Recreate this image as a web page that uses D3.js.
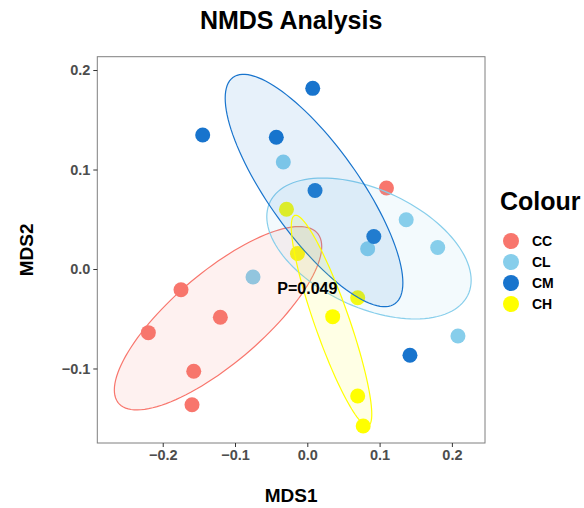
<!DOCTYPE html>
<html>
<head>
<meta charset="utf-8">
<script src="https://cdn.jsdelivr.net/npm/d3@7"></script>
<style>
  html, body { margin: 0; padding: 0; background: #fff; }
  svg { display: block; font-family: "Liberation Sans", Arial, Helvetica, sans-serif; }
</style>
</head>
<body>
<svg id="chart" width="584" height="508"></svg>
<script>
// ---- data ----
const groups = ["CC", "CL", "CM", "CH"];
const groupColors = ["#F8766D", "#87CEEB", "#1874CD", "#FFFF00"];

const ccX = [0.1095, -0.1747, -0.1203, -0.2199, -0.1571, -0.1595];
const ccY = [0.0814, -0.0208, -0.0485, -0.0640, -0.1028, -0.1364];
const clX = [-0.0332, 0.1368, 0.1804, 0.0835, -0.0751, 0.2084];
const clY = [0.1075, 0.0495, 0.0216, 0.0204, -0.0080, -0.0673];
const cmX = [0.0075, -0.1447, -0.0429, 0.0107, 0.0920, 0.1420];
const cmY = [0.1816, 0.1347, 0.1324, 0.0789, 0.0327, -0.0867];
const chX = [-0.0288, -0.0136, 0.0697, 0.0351, 0.0697, 0.0773];
const chY = [0.0600, 0.0156, -0.0289, -0.0479, -0.1276, -0.1578];

// ellipse shapes (data units): centre and covariance-like shape matrix
const ellipseCX  = [-0.1235, 0.0853, 0.0093, 0.0335];
const ellipseCY  = [-0.0495, 0.0206, 0.0789, -0.0518];
const ellipseSxx = [0.020573, 0.019982, 0.015102, 0.003099];
const ellipseSyy = [0.008494, 0.005020, 0.013638, 0.011200];
const ellipseSxy = [0.010335, -0.004518, -0.011399, -0.005241];

const xTicks = [-0.2, -0.1, 0.0, 0.1, 0.2];
const yTicks = [-0.1, 0.0, 0.1, 0.2];
const xDomain = [-0.2905, 0.2458];
const yDomain = [-0.1749, 0.2134];
const pLabel = "P=0.049";
const pPos = [0.0, -0.02];

// ---- layout ----
const svg = d3.select("#chart");
const pLeft = 97.3, pRight = 485, pTop = 56.7, pBottom = 443;
const x = d3.scaleLinear().domain(xDomain).range([pLeft, pRight]);
const y = d3.scaleLinear().domain(yDomain).range([pBottom, pTop]);

const seriesX = [ccX, clX, cmX, chX];
const seriesY = [ccY, clY, cmY, chY];
const points = [];
groups.forEach((g, i) => seriesX[i].forEach((v, j) => points.push({g: i, x: v, y: seriesY[i][j]})));

svg.append("rect").attr("x", pLeft).attr("y", pTop)
  .attr("width", pRight - pLeft).attr("height", pBottom - pTop).attr("fill", "#fff");

const plot = svg.append("g");
plot.selectAll("circle.pt").data(points).join("circle")
  .attr("class", "pt")
  .attr("cx", d => x(d.x)).attr("cy", d => y(d.y)).attr("r", 7.5)
  .attr("fill", d => groupColors[d.g]);

const line = d3.line().x(d => x(d[0])).y(d => y(d[1])).curve(d3.curveLinearClosed);
groups.forEach((g, i) => {
  const sxx = ellipseSxx[i], syy = ellipseSyy[i], sxy = ellipseSxy[i];
  const l11 = Math.sqrt(sxx), l21 = sxy / l11, l22 = Math.sqrt(syy - l21 * l21);
  const pts = d3.range(120).map(k => {
    const t = 2 * Math.PI * k / 120;
    return [ellipseCX[i] + l11 * Math.cos(t), ellipseCY[i] + l21 * Math.cos(t) + l22 * Math.sin(t)];
  });
  plot.append("path").attr("d", line(pts))
    .attr("fill", groupColors[i]).attr("fill-opacity", 0.1)
    .attr("stroke", groupColors[i]).attr("stroke-width", 1.2);
});

plot.append("text").attr("x", x(pPos[0])).attr("y", y(pPos[1]))
  .attr("text-anchor", "middle").attr("dominant-baseline", "central")
  .attr("font-size", 16).attr("font-weight", "bold").attr("fill", "#000")
  .text(pLabel);

svg.append("rect").attr("x", pLeft).attr("y", pTop)
  .attr("width", pRight - pLeft).attr("height", pBottom - pTop)
  .attr("fill", "none").attr("stroke", "#7F7F7F").attr("stroke-width", 1);

const fmt = d => d3.format(".1f")(d).replace("-", "\u2212");
const xAxis = svg.append("g").attr("transform", `translate(0,${pBottom})`)
  .call(d3.axisBottom(x).tickValues(xTicks).tickSize(4).tickPadding(3).tickFormat(fmt));
const yAxis = svg.append("g").attr("transform", `translate(${pLeft},0)`)
  .call(d3.axisLeft(y).tickValues(yTicks).tickSize(4).tickPadding(3).tickFormat(fmt));
[xAxis, yAxis].forEach(a => {
  a.select(".domain").remove();
  a.selectAll(".tick line").attr("stroke", "#333333");
  a.selectAll(".tick text").attr("fill", "#4D4D4D").attr("font-size", 14.5)
    .attr("font-weight", "bold").attr("font-family", "Liberation Sans, Arial, sans-serif");
});

svg.append("text").attr("x", (pLeft + pRight) / 2).attr("y", 29)
  .attr("text-anchor", "middle").attr("font-size", 25).attr("font-weight", "bold")
  .text("NMDS Analysis");
svg.append("text").attr("x", (pLeft + pRight) / 2).attr("y", 502)
  .attr("text-anchor", "middle").attr("font-size", 19).attr("font-weight", "bold")
  .text("MDS1");
svg.append("text").attr("transform", `translate(33,${(pTop + pBottom) / 2}) rotate(-90)`)
  .attr("text-anchor", "middle").attr("font-size", 19).attr("font-weight", "bold")
  .text("MDS2");

const lg = svg.append("g");
lg.append("text").attr("x", 500).attr("y", 210).attr("font-size", 25).attr("font-weight", "bold")
  .text("Colour");
const legY = d3.scalePoint().domain(groups).range([241, 304]);
groups.forEach((g, i) => {
  lg.append("circle").attr("cx", 511).attr("cy", legY(g)).attr("r", 8).attr("fill", groupColors[i]);
  lg.append("text").attr("x", 532).attr("y", legY(g)).attr("dominant-baseline", "central")
    .attr("font-size", 14).attr("font-weight", "bold").text(g);
});
</script>
</body>
</html>
